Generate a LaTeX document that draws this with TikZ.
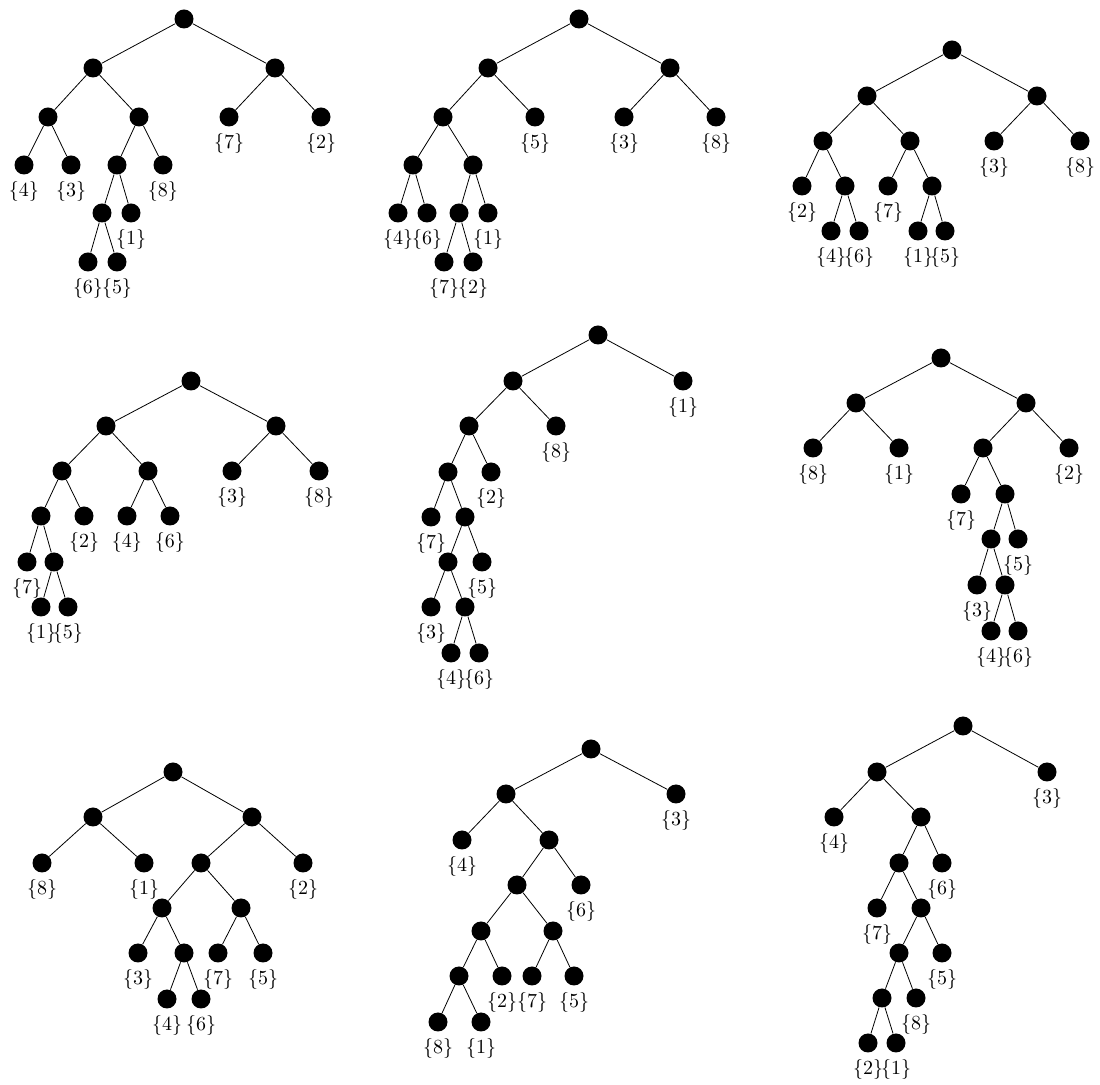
\documentclass[tikz,border=0pt]{standalone}
\usepackage{tikz}

\begin{document}
\begin{tikzpicture}[x=0.5pt, y=-0.5pt,
  vert/.style={circle, fill=black, inner sep=0pt, minimum size=9.5pt},
  leaf/.style={vert, label=below:{\{#1\}}}]
\useasboundingbox (0,0) rectangle (1100,1085);

% tree 1
\foreach \n/\x/\y in {r/184/19, a/93/68, b/275/68, aa/48/117, ab/139/117, aba/117/165, abaa/102/213}
  \node[vert] (A\n) at (\x,\y) {};
\foreach \n/\x/\y/\v in {ba/229/117/7, bb/321/117/2, aaa/24/165/4, aab/71/165/3, abb/163/165/8,
    abab/131/213/1, abaaa/88/262/6, abaab/117/262/5}
  \node[leaf=\v] (A\n) at (\x,\y) {};
\foreach \a/\b in {r/a, r/b, a/aa, a/ab, b/ba, b/bb, aa/aaa, aa/aab, ab/aba, ab/abb,
    aba/abaa, aba/abab, abaa/abaaa, abaa/abaab}
  \draw (A\a) -- (A\b);

% tree 2
\foreach \n/\x/\y in {r/579/19, a/488/68, b/670/68, aa/443/117, aaa/413/165, aab/473/165, aaba/459/213}
  \node[vert] (B\n) at (\x,\y) {};
\foreach \n/\x/\y/\v in {ab/535/117/5, ba/624/117/3, bb/716/117/8, aaaa/398/213/4, aaab/427/213/6,
    aabb/488/213/1, aabaa/444/262/7, aabab/473/262/2}
  \node[leaf=\v] (B\n) at (\x,\y) {};
\foreach \a/\b in {r/a, r/b, a/aa, a/ab, b/ba, b/bb, aa/aaa, aa/aab, aaa/aaaa, aaa/aaab,
    aab/aaba, aab/aabb, aaba/aabaa, aaba/aabab}
  \draw (B\a) -- (B\b);

% tree 3
\foreach \n/\x/\y in {r/952/50, a/867/96, b/1037/96, aa/823/141, ab/910/141, aab/845/186, abb/932/186}
  \node[vert] (C\n) at (\x,\y) {};
\foreach \n/\x/\y/\v in {ba/994/141/3, bb/1080/141/8, aaa/802/186/2, aba/888/186/7, aaba/831/231/4,
    aabb/859/231/6, abba/918/231/1, abbb/945/231/5}
  \node[leaf=\v] (C\n) at (\x,\y) {};
\foreach \a/\b in {r/a, r/b, a/aa, a/ab, b/ba, b/bb, aa/aaa, aa/aab, ab/aba, ab/abb,
    aab/aaba, aab/aabb, abb/abba, abb/abbb}
  \draw (C\a) -- (C\b);

% tree 4
\foreach \n/\x/\y in {r/191/381, a/106/426, b/276/426, aa/62/471, ab/148/471, aaa/41/516, aaab/54/562}
  \node[vert] (D\n) at (\x,\y) {};
\foreach \n/\x/\y/\v in {ba/232/471/3, bb/319/471/8, aab/84/516/2, aba/127/516/4, abb/170/516/6,
    aaaa/27/562/7, aaaba/41/607/1, aaabb/68/607/5}
  \node[leaf=\v] (D\n) at (\x,\y) {};
\foreach \a/\b in {r/a, r/b, a/aa, a/ab, b/ba, b/bb, aa/aaa, aa/aab, ab/aba, ab/abb,
    aaa/aaaa, aaa/aaab, aaab/aaaba, aaab/aaabb}
  \draw (D\a) -- (D\b);

% tree 5
\foreach \n/\x/\y in {r/598/335, a/513/381, aa/469/426, aaa/448/472, aaab/465/517, aaaba/448/562, aaabab/465/607}
  \node[vert] (E\n) at (\x,\y) {};
\foreach \n/\x/\y/\v in {b/683/381/1, ab/556/426/8, aab/491/472/2, aaaa/431/517/7, aaabb/482/562/5,
    aaabaa/431/607/3, aaababa/451/653/4, aaababb/479/653/6}
  \node[leaf=\v] (E\n) at (\x,\y) {};
\foreach \a/\b in {r/a, r/b, a/aa, a/ab, aa/aaa, aa/aab, aaa/aaaa, aaa/aaab, aaab/aaaba, aaab/aaabb,
    aaaba/aaabaa, aaaba/aaabab, aaabab/aaababa, aaabab/aaababb}
  \draw (E\a) -- (E\b);

% tree 6
\foreach \n/\x/\y in {r/941/358, a/856/403, b/1026/403, ba/983/448, bab/1005/494, baba/991/539, babab/1005/585}
  \node[vert] (F\n) at (\x,\y) {};
\foreach \n/\x/\y/\v in {aa/813/448/8, ab/899/448/1, bb/1069/448/2, baa/961/494/7, babb/1018/539/5,
    babaa/977/585/3, bababa/991/631/4, bababb/1018/631/6}
  \node[leaf=\v] (F\n) at (\x,\y) {};
\foreach \a/\b in {r/a, r/b, a/aa, a/ab, b/ba, b/bb, ba/baa, ba/bab, bab/baba, bab/babb,
    baba/babaa, baba/babab, babab/bababa, babab/bababb}
  \draw (F\a) -- (F\b);

% tree 7
\foreach \n/\x/\y in {r/173/772, a/93/817, b/252/817, ba/201/863, baa/162/908, bab/241/908, baab/184/953}
  \node[vert] (G\n) at (\x,\y) {};
\foreach \n/\x/\y/\v in {aa/42/863/8, ab/144/863/1, bb/303/863/2, baaa/138/953/3, baba/218/953/7,
    babb/263/953/5, baaba/167/999/4, baabb/201/999/6}
  \node[leaf=\v] (G\n) at (\x,\y) {};
\foreach \a/\b in {r/a, r/b, a/aa, a/ab, b/ba, b/bb, ba/baa, ba/bab, baa/baaa, baa/baab,
    bab/baba, bab/babb, baab/baaba, baab/baabb}
  \draw (G\a) -- (G\b);

% tree 8
\foreach \n/\x/\y in {r/591/749, a/506/794, ab/549/840, aba/517/885, abaa/481/931, abab/553/931, abaaa/459/976}
  \node[vert] (H\n) at (\x,\y) {};
\foreach \n/\x/\y/\v in {b/676/794/3, aa/462/840/4, abb/581/885/6, abaab/502/976/2, ababa/532/976/7,
    ababb/574/976/5, abaaaa/438/1022/8, abaaab/481/1022/1}
  \node[leaf=\v] (H\n) at (\x,\y) {};
\foreach \a/\b in {r/a, r/b, a/aa, a/ab, ab/aba, ab/abb, aba/abaa, aba/abab, abaa/abaaa, abaa/abaab,
    abab/ababa, abab/ababb, abaaa/abaaaa, abaaa/abaaab}
  \draw (H\a) -- (H\b);

% tree 9
\foreach \n/\x/\y in {r/963/726, a/877/772, ab/921/817, aba/899/863, abab/921/908, ababa/899/953, ababaa/882/998}
  \node[vert] (I\n) at (\x,\y) {};
\foreach \n/\x/\y/\v in {b/1047/772/3, aa/834/817/4, abb/942/863/6, abaa/877/908/7, ababb/942/953/5,
    ababab/916/998/8, ababaaa/868/1043/2, ababaab/896/1043/1}
  \node[leaf=\v] (I\n) at (\x,\y) {};
\foreach \a/\b in {r/a, r/b, a/aa, a/ab, ab/aba, ab/abb, aba/abaa, aba/abab, abab/ababa, abab/ababb,
    ababa/ababaa, ababa/ababab, ababaa/ababaaa, ababaa/ababaab}
  \draw (I\a) -- (I\b);
\end{tikzpicture}
\end{document}
